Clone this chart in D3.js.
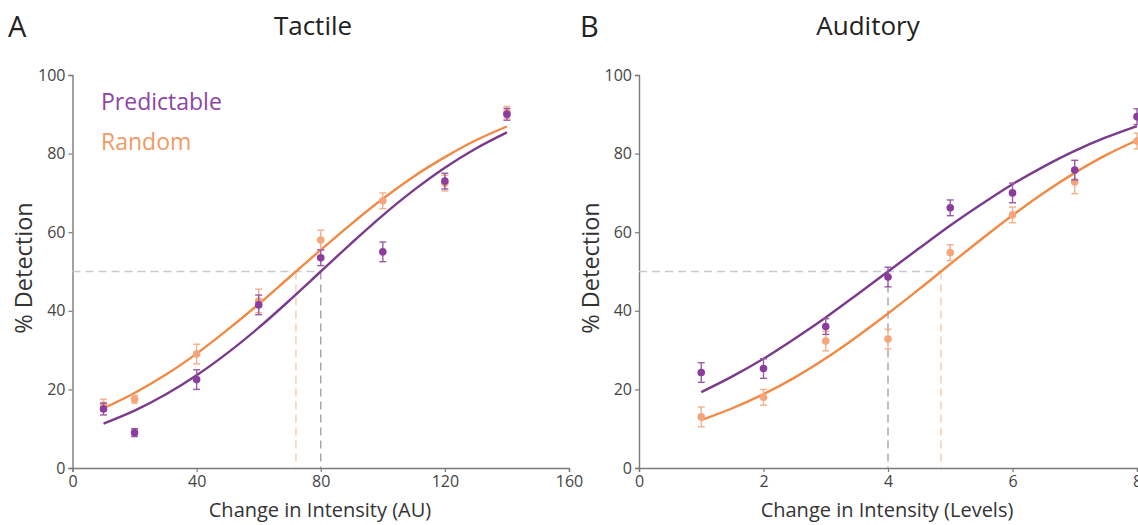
<!DOCTYPE html>
<html><head><meta charset="utf-8">
<script src="https://cdn.jsdelivr.net/npm/d3@7"></script>
<style>
body{margin:0;background:#fff;}
svg{display:block;font-family:"Open Sans",sans-serif;}
</style></head>
<body><svg id="c" width="1138" height="525"></svg>
<script>
// ---- Data ----
const tactileX = [10, 20, 40, 60, 80, 100, 120, 140];
const tactilePred = [15, 9, 22.5, 41.5, 53.5, 55, 73, 90];
const tactilePredErr = [1.5, 1, 2.5, 2.5, 2, 2.5, 2, 1.5];
const tactileRand = [16, 17.5, 29, 42.5, 58, 68, 72.5, 90.5];
const tactileRandErr = [1.5, 1, 2.5, 3, 2.5, 2, 2, 1.5];

const tactileFitX = [10, 20, 30, 40, 50, 60, 70, 80, 90, 100, 110, 120, 130, 140];
const tactileFitPred = [11.3, 14.6, 18.7, 23.6, 29.3, 35.7, 42.7, 50, 57.3, 64.3, 70.7, 76.4, 81.3, 85.4];
const tactileFitRand = [15.2, 19.1, 23.7, 29.1, 35.2, 41.7, 48.6, 55.5, 62.2, 68.5, 74.2, 79.1, 83.4, 86.9];
const tactileThresh = {pred: 80, rand: 72};

const auditoryX = [1, 2, 3, 4, 5, 6, 7, 8];
const auditoryPred = [24.3, 25.3, 36, 48.6, 66.2, 70, 75.8, 89.4];
const auditoryPredErr = [2.5, 2.5, 2, 2.5, 2, 2.5, 2.5, 2];
const auditoryRand = [13, 18, 32.3, 32.8, 54.8, 64.4, 72.8, 83.2];
const auditoryRandErr = [2.5, 2, 2.5, 2.5, 2, 2, 3, 2];

const auditoryFitX = [1, 1.5, 2, 2.5, 3, 3.5, 4, 4.5, 5, 5.5, 6, 6.5, 7, 7.5, 8];
const auditoryFitPred = [19.3, 23.3, 27.8, 32.9, 38.3, 44.1, 50, 55.9, 61.7, 67.1, 72.2, 76.7, 80.7, 84.1, 87.0];
const auditoryFitRand = [12.2, 15.2, 18.8, 23.0, 27.9, 33.4, 39.3, 45.5, 51.9, 58.2, 64.3, 70.0, 75.1, 79.6, 83.4];
const auditoryThresh = {pred: 4, rand: 4.85};

const tactileTicks = [0, 40, 80, 120, 160];
const auditoryTicks = [0, 2, 4, 6, 8];
const yTicks = [0, 20, 40, 60, 80, 100];

const C = {
  predLine: "#7a3b8c", predPt: "#8c3b9e", predErr: "#9a5aa8",
  randLine: "#f08a44", randPt: "#f6a57a", randErr: "#f3b08a",
  predText: "#8e44a8", randText: "#f19a66",
  ref: "#c9c9d2", vPred: "#a696a6", vRand: "#f4c7a6",
  axis: "#7a7a7a", text: "#333"
};

const svg = d3.select("#c");

function panel(o) {
  const x = d3.scaleLinear().domain(o.xDomain).range(o.xRange);
  const y = d3.scaleLinear().domain([0, 100]).range([468, 75]);
  const g = svg.append("g");

  // axes
  const xa = g.append("g").attr("transform", `translate(0,${y(0)})`)
    .call(d3.axisBottom(x).tickValues(o.ticks).tickSize(4).tickPadding(4));
  const ya = g.append("g").attr("transform", `translate(${x(0)},0)`)
    .call(d3.axisLeft(y).tickValues(yTicks).tickSize(4).tickPadding(3));
  [xa, ya].forEach(a => {
    a.select(".domain").attr("stroke", C.axis).attr("stroke-width", 1.4);
    a.selectAll(".tick line").attr("stroke", C.axis).attr("stroke-width", 1.2);
    a.selectAll(".tick text").attr("fill", "#444").style("font-size", "16px")
      .style("font-family", '"Open Sans",sans-serif');
  });

  // reference lines
  g.append("line").attr("x1", x(0)).attr("x2", x(Math.max(o.thresh.pred, o.thresh.rand)))
    .attr("y1", y(50)).attr("y2", y(50))
    .attr("stroke", C.ref).attr("stroke-width", 1.3).attr("stroke-dasharray", "8,5");
  g.append("line").attr("x1", x(o.thresh.rand)).attr("x2", x(o.thresh.rand))
    .attr("y1", y(50)).attr("y2", y(0))
    .attr("stroke", C.vRand).attr("stroke-width", 1.3).attr("stroke-dasharray", "8,5");
  g.append("line").attr("x1", x(o.thresh.pred)).attr("x2", x(o.thresh.pred))
    .attr("y1", y(50)).attr("y2", y(0))
    .attr("stroke", C.vPred).attr("stroke-width", 1.3).attr("stroke-dasharray", "8,5");

  // fits
  const line = d3.line().x(d => x(d[0])).y(d => y(d[1])).curve(d3.curveMonotoneX);
  g.append("path").datum(d3.zip(o.fitX, o.fitRand)).attr("d", line)
    .attr("fill", "none").attr("stroke", C.randLine).attr("stroke-width", 2.4);
  g.append("path").datum(d3.zip(o.fitX, o.fitPred)).attr("d", line)
    .attr("fill", "none").attr("stroke", C.predLine).attr("stroke-width", 2.4);

  // points
  function pts(vals, errs, ptCol, errCol) {
    const data = d3.zip(o.xs, vals, errs);
    const eg = g.append("g");
    data.forEach(([xv, yv, e]) => {
      eg.append("line").attr("x1", x(xv)).attr("x2", x(xv)).attr("y1", y(yv - e)).attr("y2", y(yv + e))
        .attr("stroke", errCol).attr("stroke-width", 1.4);
      [yv - e, yv + e].forEach(v => eg.append("line").attr("x1", x(xv) - 3.5).attr("x2", x(xv) + 3.5)
        .attr("y1", y(v)).attr("y2", y(v)).attr("stroke", errCol).attr("stroke-width", 1.4));
    });
    g.append("g").selectAll("circle").data(data).join("circle")
      .attr("cx", d => x(d[0])).attr("cy", d => y(d[1])).attr("r", 3.8).attr("fill", ptCol);
  }
  pts(o.rand, o.randErr, C.randPt, C.randErr);
  pts(o.pred, o.predErr, C.predPt, C.predErr);

  // labels
  g.append("text").attr("x", o.titleX).attr("y", 35).attr("text-anchor", "middle")
    .attr("fill", "#222").style("font-size", "26px").text(o.title);
  g.append("text").attr("x", o.letterX).attr("y", 37)
    .attr("fill", "#222").style("font-size", "29px").text(o.letter);
  g.append("text").attr("transform", `translate(${o.yLabX},268) rotate(-90)`).attr("text-anchor", "middle")
    .attr("fill", C.text).style("font-size", "23.5px").text("% Detection");
  g.append("text").attr("x", o.xLabX).attr("y", 517).attr("text-anchor", "middle")
    .attr("fill", C.text).style("font-size", "20px").text(o.xLabel);
}

panel({
  xDomain: [0, 160], xRange: [72.5, 569], ticks: tactileTicks,
  xs: tactileX, pred: tactilePred, predErr: tactilePredErr, rand: tactileRand, randErr: tactileRandErr,
  fitX: tactileFitX, fitPred: tactileFitPred, fitRand: tactileFitRand, thresh: tactileThresh,
  title: "Tactile", titleX: 313, letter: "A", letterX: 8, yLabX: 32, xLabX: 320,
  xLabel: "Change in Intensity (AU)"
});
panel({
  xDomain: [0, 8], xRange: [639, 1137], ticks: auditoryTicks,
  xs: auditoryX, pred: auditoryPred, predErr: auditoryPredErr, rand: auditoryRand, randErr: auditoryRandErr,
  fitX: auditoryFitX, fitPred: auditoryFitPred, fitRand: auditoryFitRand, thresh: auditoryThresh,
  title: "Auditory", titleX: 868, letter: "B", letterX: 580, yLabX: 599, xLabX: 887,
  xLabel: "Change in Intensity (Levels)"
});

// legend
svg.append("text").attr("x", 101).attr("y", 110).attr("fill", C.predText)
  .style("font-size", "23px").text("Predictable");
svg.append("text").attr("x", 101).attr("y", 150).attr("fill", C.randText)
  .style("font-size", "23px").text("Random");
</script></body></html>
